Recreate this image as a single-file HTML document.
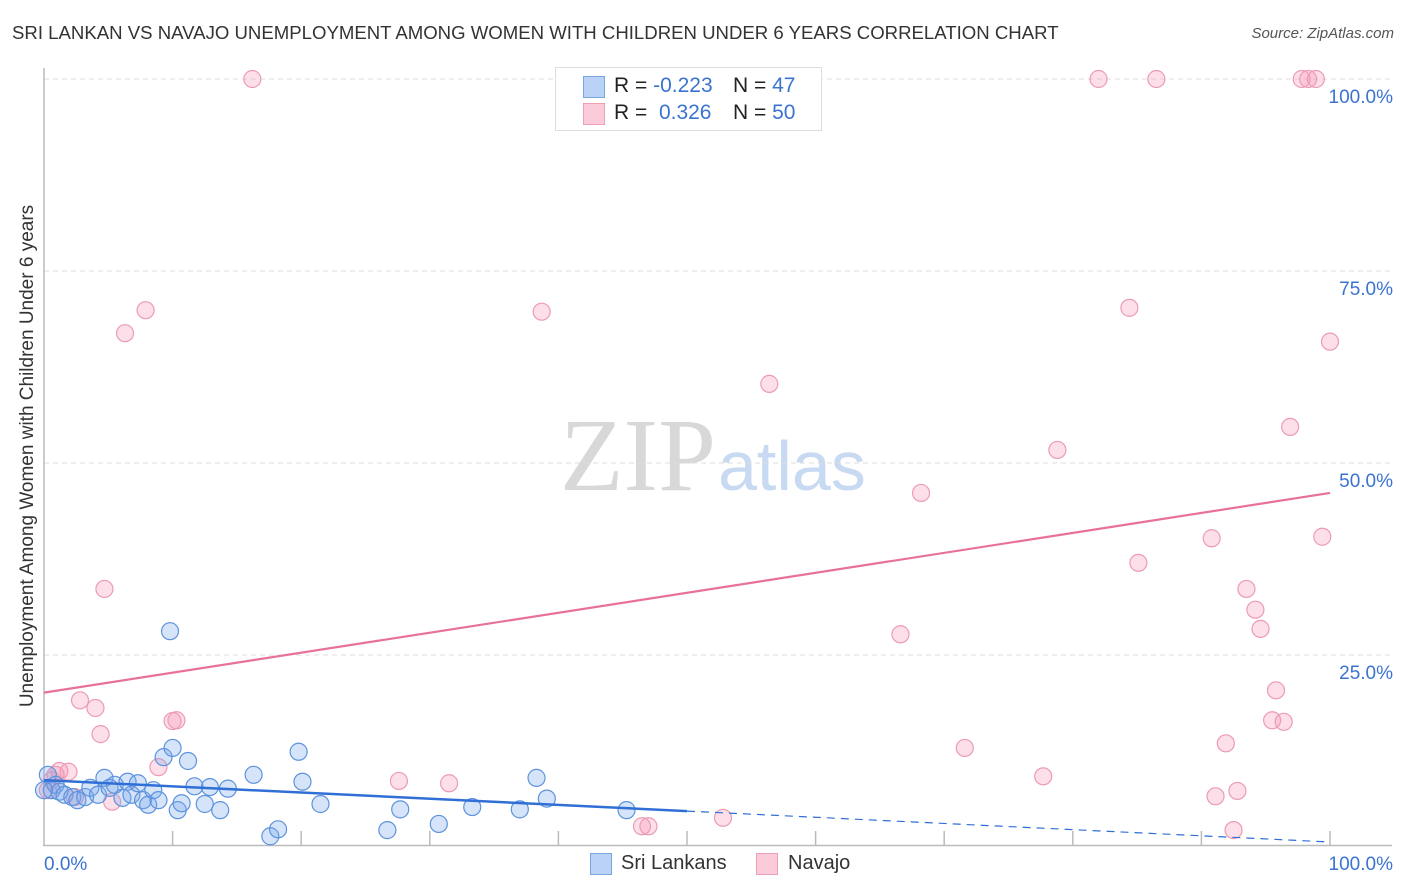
<!DOCTYPE html>
<html><head><meta charset="utf-8"><style>
body{margin:0;background:#fff;font-family:"Liberation Sans",sans-serif;}
#wrap{position:relative;width:1406px;height:892px;overflow:hidden;}
.t{position:absolute;white-space:nowrap;}
</style></head><body>
<div id="wrap">
<div class="t" style="left:12px;top:22px;font-size:18.6px;color:#333;">SRI LANKAN VS NAVAJO UNEMPLOYMENT AMONG WOMEN WITH CHILDREN UNDER 6 YEARS CORRELATION CHART</div>
<div class="t" style="right:12px;top:25px;font-size:15px;color:#555;font-style:italic;">Source: ZipAtlas.com</div>
<div class="t" style="left:28px;top:456px;font-size:19px;color:#333;transform:translate(-50%,-50%) rotate(-90deg);">Unemployment Among Women with Children Under 6 years</div>
<svg id="svg" width="1406" height="892" style="position:absolute;left:0;top:0">
<text x="716" y="490" font-family="Liberation Serif,serif" font-size="104" fill="#d8d8d8" text-anchor="end">ZIP</text>
<text x="718" y="490" font-family="Liberation Sans,sans-serif" font-size="70" fill="#c8daf2">atlas</text>
</svg>
<div style="position:absolute;left:555px;top:67px;width:265px;height:62px;border:1px solid #ddd;background:#fff;font-size:21px;">
<div style="position:absolute;left:27px;top:8px;width:20px;height:20px;background:#b9d2f5;border:1px solid #7aa6e0;"></div>
<div class="t" style="left:58px;top:6px;color:#222;">R = <span style="color:#3a73d0">-0.223</span></div>
<div class="t" style="left:177px;top:6px;color:#222;">N = <span style="color:#3a73d0">47</span></div>
<div style="position:absolute;left:27px;top:35px;width:20px;height:20px;background:#fbcbd9;border:1px solid #eea0b8;"></div>
<div class="t" style="left:58px;top:33px;color:#222;">R = &nbsp;<span style="color:#3a73d0">0.326</span></div>
<div class="t" style="left:177px;top:33px;color:#222;">N = <span style="color:#3a73d0">50</span></div>
</div>
<div style="position:absolute;left:590px;top:853px;width:20px;height:20px;background:#b9d2f5;border:1px solid #7aa6e0;"></div>
<div class="t" style="left:621px;top:852px;font-size:20px;color:#333;">Sri Lankans</div>
<div style="position:absolute;left:756px;top:853px;width:20px;height:20px;background:#fbcbd9;border:1px solid #eea0b8;"></div>
<div class="t" style="left:788px;top:852px;font-size:20px;color:#333;">Navajo</div>
</div>
<script>
const yTicks=[25,50,75,100];
const yTickLabels=["25.0%","50.0%","75.0%","100.0%"];
const xEndLabels=["0.0%","100.0%"];
const blueX=[0.3,0.6,0.9,1.2,1.6,2.2,2.6,3.2,3.6,4.2,4.7,5.1,5.5,6.1,6.5,6.8,7.3,7.7,8.1,8.5,8.9,9.3,9.8,10.0,10.4,10.7,11.2,11.7,12.5,12.9,13.7,14.3,16.3,17.6,18.2,19.8,20.1,21.5,26.7,27.7,30.7,33.3,37.0,38.3,39.1,45.3,0];
const blueY=[9.4,7.4,8.1,7.2,6.8,6.5,6.1,6.5,7.7,6.8,9.0,7.7,8.1,6.4,8.5,6.8,8.3,6.1,5.5,7.4,6.1,11.7,28.1,12.9,4.8,5.7,11.2,7.9,5.6,7.8,4.8,7.6,9.4,1.4,2.3,12.4,8.5,5.6,2.2,4.9,3.0,5.2,4.9,9.0,6.3,4.8,7.4];
const pinkX=[16.2,82.0,86.5,97.8,98.3,98.9,7.9,6.3,38.7,84.4,100,56.4,96.9,78.8,68.2,90.8,99.4,85.1,4.7,93.5,94.2,94.6,66.6,2.8,4.0,95.8,4.4,10.0,10.3,95.5,96.4,71.6,91.9,8.9,77.7,27.6,31.5,92.8,91.1,52.8,46.5,47.0,92.5,0.9,1.2,1.9,0.3,2.4,5.3,0.6];
const pinkY=[100,100,100,100,100,100,69.9,66.9,69.7,70.2,65.8,60.3,54.7,51.7,46.1,40.2,40.4,37.0,33.6,33.6,30.9,28.4,27.7,19.1,18.1,20.4,14.7,16.4,16.5,16.5,16.3,12.9,13.5,10.4,9.2,8.6,8.3,7.3,6.6,3.8,2.7,2.7,2.2,9.4,9.9,9.8,7.4,6.5,5.9,8.7];
const blueTrend=[8.7,0.65];
const pinkTrend=[20.1,46.1];
const blueSolidEnd=50;

const X=v=>44+v*12.86, Y=v=>847-v*7.68;
const NS="http://www.w3.org/2000/svg", svg=document.getElementById('svg');
function mk(tag,a){const e=document.createElementNS(NS,tag);for(const k in a)e.setAttribute(k,a[k]);svg.appendChild(e);return e;}
yTicks.forEach((t,i)=>{
 const g=mk('line',{x1:44,x2:1392,y1:Y(t),y2:Y(t),stroke:'#ddd','stroke-dasharray':'5,4'});
 
 
 const tx=mk('text',{x:1393,y:Y(t)+24,'text-anchor':'end','font-size':19,fill:'#3a73d0','font-family':'Liberation Sans,sans-serif'});
 tx.textContent=yTickLabels[i];
 
 
});
const ax=mk('line',{x1:44,x2:44,y1:68,y2:846,stroke:'#bbb','stroke-width':1.5});


const bx=mk('line',{x1:43,x2:1392,y1:845.5,y2:845.5,stroke:'#bbb','stroke-width':1.5});


for(let i=1;i<=10;i++){
 const tk=mk('line',{x1:X(i*10),x2:X(i*10),y1:831,y2:845,stroke:'#bbb','stroke-width':1.5});
 
 
}
[[0,'start',44],[100,'end',1393]].forEach((d,i)=>{
 const tx=mk('text',{x:d[2],y:870,'text-anchor':d[1],'font-size':19,fill:'#3a73d0','font-family':'Liberation Sans,sans-serif'});
 tx.textContent=xEndLabels[i];
 
 
});
pinkX.forEach((x,i)=>{
 const c=mk('circle',{cx:X(x),cy:Y(pinkY[i]),r:8.5,fill:'rgba(244,150,180,0.3)',stroke:'#ec9bb5','stroke-width':1.2});
 
 
});
blueX.forEach((x,i)=>{
 const c=mk('circle',{cx:X(x),cy:Y(blueY[i]),r:8.5,fill:'rgba(120,165,235,0.3)',stroke:'#5d93dd','stroke-width':1.2});
 
 
});
const pl=mk('line',{x1:X(0),y1:Y(pinkTrend[0]),x2:X(100),y2:Y(pinkTrend[1]),stroke:'#e8719a','stroke-width':2.2});


const bAt=v=>blueTrend[0]+(blueTrend[1]-blueTrend[0])*v/100;
const bl=mk('line',{x1:X(0),y1:Y(blueTrend[0]),x2:X(blueSolidEnd),y2:Y(bAt(blueSolidEnd)),stroke:'#2f6fd6','stroke-width':2.5});


const bd=mk('line',{x1:X(blueSolidEnd),y1:Y(bAt(blueSolidEnd)),x2:X(100),y2:Y(blueTrend[1]),stroke:'#2f6fd6','stroke-width':1.2,'stroke-dasharray':'8,6'});


</script>
</body></html>
